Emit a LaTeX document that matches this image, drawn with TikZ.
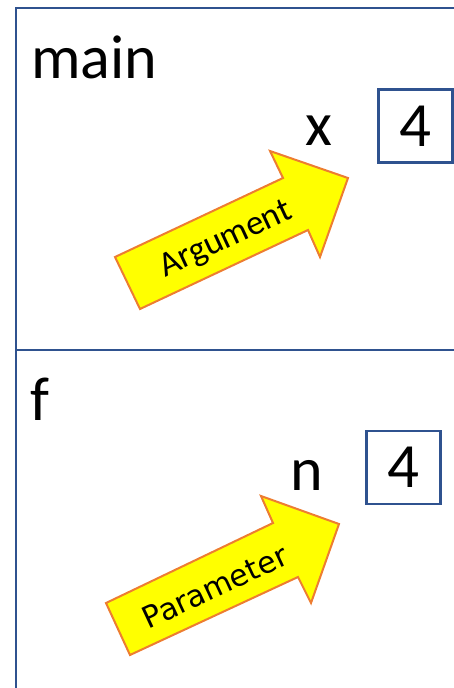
\documentclass[tikz,border=0pt]{standalone}
\usepackage{fontspec}
\setmainfont{Carlito}
\newfontfamily\paramfont{DejaVu Sans}
\definecolor{frameblue}{HTML}{2F528F}
\definecolor{arroworange}{HTML}{ED7D31}
\definecolor{arrowyellow}{HTML}{FFFF00}
\begin{document}
\begin{tikzpicture}[x=1pt,y=-1pt,
  frameline/.style={draw=frameblue,line width=2.4pt},
  bigtext/.style={font=\fontsize{62}{62}\selectfont,inner sep=0pt},
  valbox/.style={draw=frameblue,line width=2.2pt,minimum width=74pt,minimum height=73pt,inner sep=0pt,font=\fontsize{63}{63}\selectfont},
  fatarrow/.style={fill=arrowyellow,draw=arroworange,line width=2pt,line join=miter},
  arrowlabel/.style={inner sep=0pt,rotate=25}]
\useasboundingbox (0,0) rectangle (454,688);
\clip (0,0) rectangle (454,688);
% frames
\coordinate (tl) at (16,8);
\coordinate (tr) at (460,8);
\coordinate (bl) at (16,700);
\coordinate (ml) at (16,350);
\coordinate (mr) at (460,350);
\draw[frameline] (tr) -- (tl) -- (bl);
\draw[frameline] (ml) -- (mr);
% labels
\node[bigtext,anchor=base west] (mainlbl) at (31,78) {main};
\node[bigtext,anchor=base west] (flbl) at (30,420) {f};
\node[bigtext,anchor=base] (xlbl) at (319,145) {x};
\node[bigtext,anchor=base] (nlbl) at (307,490) {n};
\node[valbox] (xval) at (415.5,126) {4};
\node[valbox] (nval) at (403.5,467.5) {4};
% Argument arrow
\draw[fatarrow] (115,257) -- (283,178) -- (270,151) -- (348,178) -- (320,257) -- (308,230) -- (140,309) -- cycle;
\node[arrowlabel,font=\fontsize{35}{35}\selectfont] (arg) at (226,240) {Argument};
% Parameter arrow
\draw[fatarrow] (106,603) -- (273,523) -- (261,496) -- (339,524) -- (311,603) -- (298,577) -- (130,655) -- cycle;
\node[arrowlabel,font=\paramfont\fontsize{30}{30}\selectfont] (par) at (215,587) {Parameter};
\end{tikzpicture}
\end{document}
